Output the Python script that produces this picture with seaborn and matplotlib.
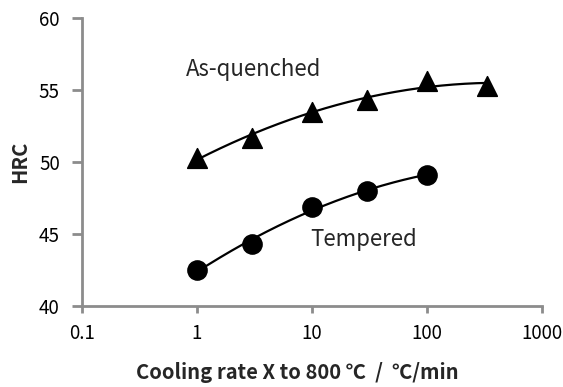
import numpy as np
import pandas as pd
import matplotlib
matplotlib.use("Agg")
import matplotlib.pyplot as plt
import seaborn as sns

# Data
aq_rate = [1, 3, 10, 30, 100, 330]
aq_hrc = [50.3, 51.7, 53.5, 54.3, 55.6, 55.3]
tp_rate = [1, 3, 10, 30, 100]
tp_hrc = [42.5, 44.3, 46.9, 48.0, 49.1]
xticks = [0.1, 1, 10, 100, 1000]
xtick_labels = ["0.1", "1", "10", "100", "1000"]
yticks = [40, 45, 50, 55, 60]

sns.set_style("white")
plt.rcParams['font.family'] = ['Noto Sans CJK JP', 'DejaVu Sans']


def trend(xs, ys, deg):
    # polynomial trendline in log10(x)
    lx = np.log10(np.asarray(xs, float))
    coef = np.polyfit(lx, np.asarray(ys, float), deg)
    gx = np.linspace(lx.min(), lx.max(), 200)
    return 10 ** gx, np.polyval(coef, gx)


fig = plt.figure(figsize=(5.63, 3.87), dpi=100)
ax = fig.add_axes([0.1457, 0.2093, 0.8170, 0.7442])

sx, sy = trend(aq_rate, aq_hrc, 2)
sns.lineplot(x=sx, y=sy, ax=ax, color="black", lw=1.6, sort=False, estimator=None)
sx, sy = trend(tp_rate, tp_hrc, 2)
sns.lineplot(x=sx, y=sy, ax=ax, color="black", lw=1.6, sort=False, estimator=None)

sns.scatterplot(x=aq_rate, y=aq_hrc, ax=ax, marker="^", s=200, color="black",
                edgecolor="black", zorder=5)
sns.scatterplot(x=tp_rate, y=tp_hrc, ax=ax, marker="o", s=190, color="black",
                edgecolor="black", zorder=5)

ax.set_xscale("log")
ax.set_xlim(0.1, 1000)
ax.set_ylim(40, 60)
ax.set_xticks(xticks)
ax.set_xticklabels(xtick_labels)
ax.set_yticks(yticks)
ax.minorticks_off()

for side in ["top", "right"]:
    ax.spines[side].set_visible(False)
for side in ["left", "bottom"]:
    ax.spines[side].set_color("#8c8c8c")
    ax.spines[side].set_linewidth(2.0)
ax.tick_params(axis="both", which="major", direction="out", width=2.0,
               color="#8c8c8c", labelsize=13.5, labelcolor="black",
               bottom=True, left=True)
ax.tick_params(axis="x", length=5, pad=7)
ax.tick_params(axis="y", length=7, pad=9)

ax.set_ylabel("HRC", fontsize=14.5, fontweight="bold")
ax.yaxis.set_label_coords(-0.146 + 15 / 460, 0.5)
ax.set_xlabel("Cooling rate X to 800 \u2103  /  \u2103/min", fontsize=14.5,
              fontweight="bold")
ax.xaxis.set_label_coords((297 - 82) / 460, -0.195)

ax.text(0.80, 56.45, "As-quenched", fontsize=16, va="center", ha="left")
ax.text(9.6, 44.6, "Tempered", fontsize=16, va="center", ha="left")

fig.savefig("out.png", dpi=100)
